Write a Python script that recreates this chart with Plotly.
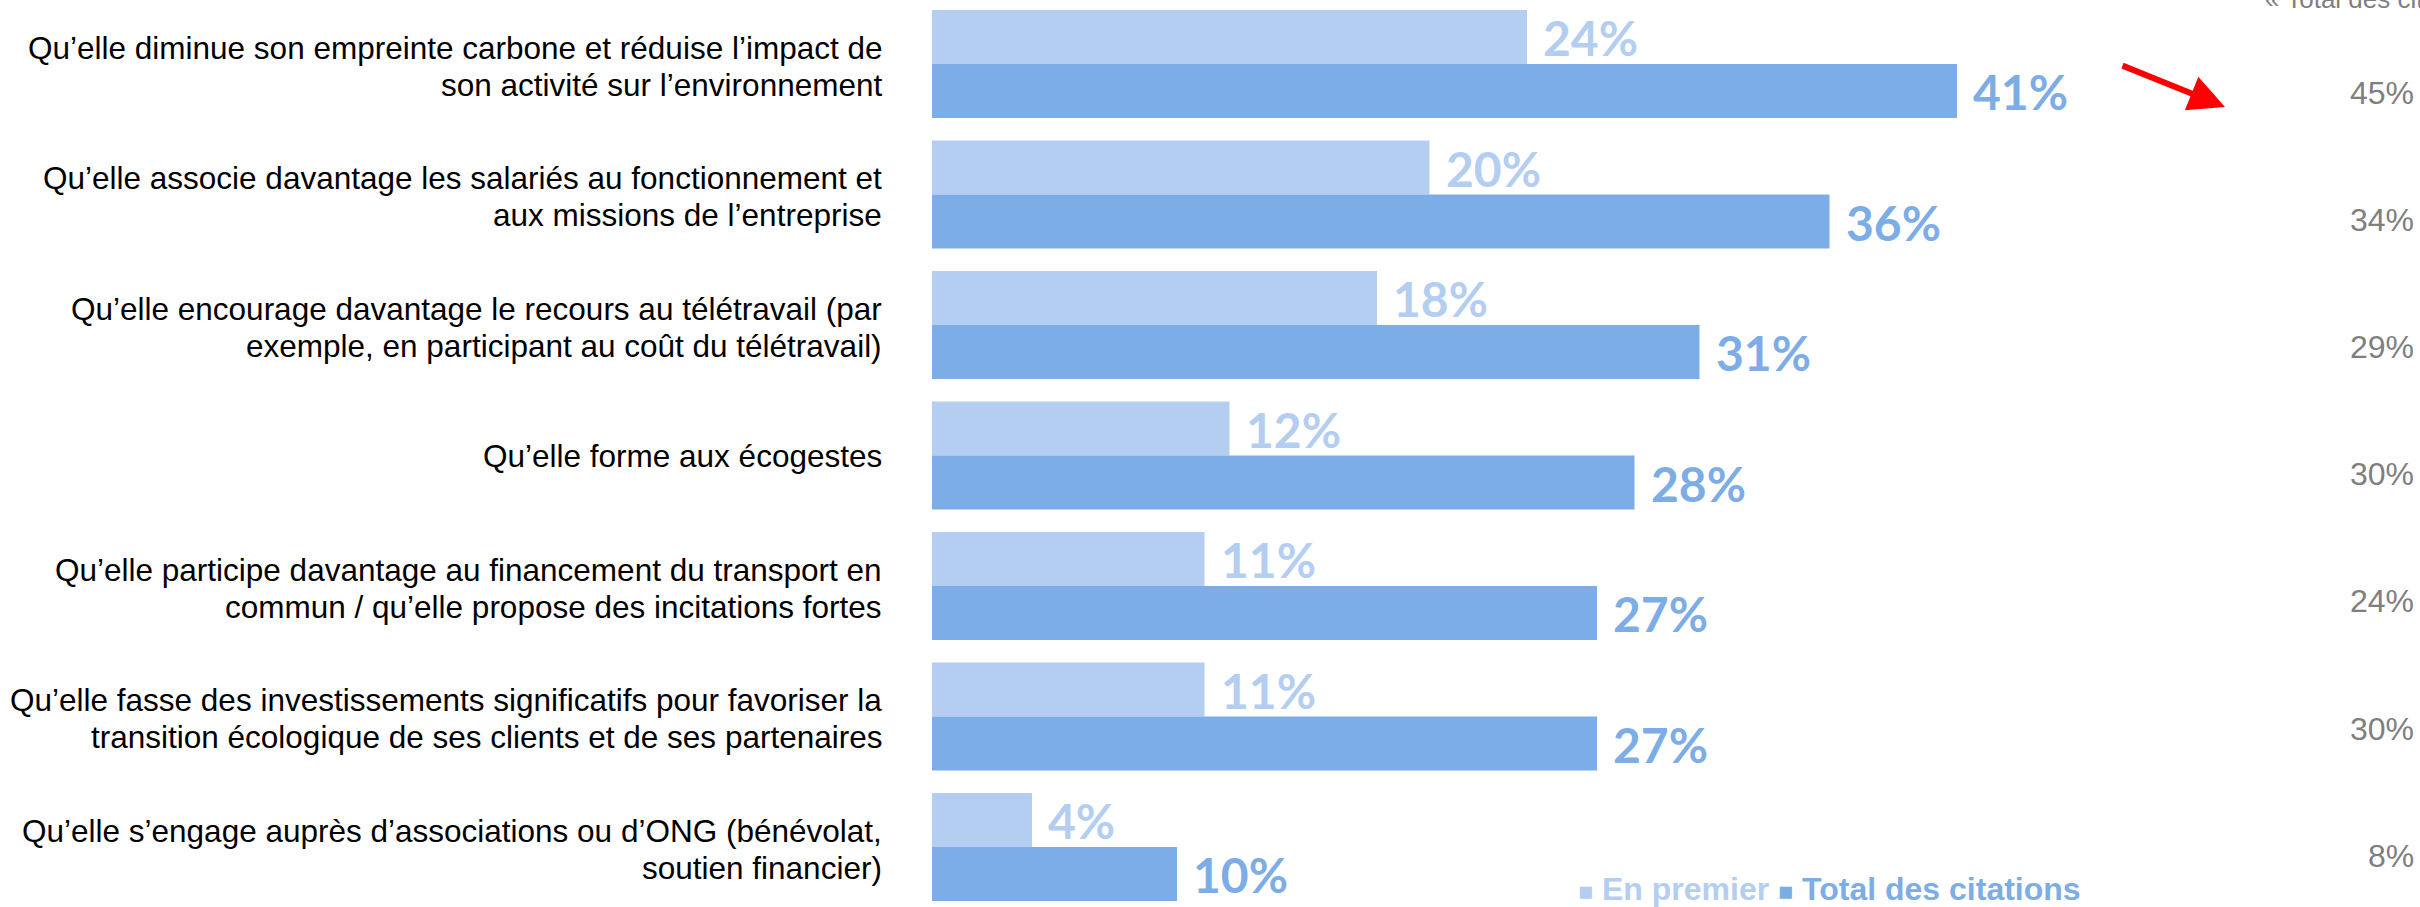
import plotly.graph_objects as go

# ---------------- data ----------------
categories = [
    ["Qu’elle diminue son empreinte carbone et réduise l’impact de", "son activité sur l’environnement"],
    ["Qu’elle associe davantage les salariés au fonctionnement et", "aux missions de l’entreprise"],
    ["Qu’elle encourage davantage le recours au télétravail (par", "exemple, en participant au coût du télétravail)"],
    ["Qu’elle forme aux écogestes"],
    ["Qu’elle participe davantage au financement du transport en", "commun / qu’elle propose des incitations fortes"],
    ["Qu’elle fasse des investissements significatifs pour favoriser la", "transition écologique de ses clients et de ses partenaires"],
    ["Qu’elle s’engage auprès d’associations ou d’ONG (bénévolat,", "soutien financier)"],
]
# bar lengths (labels show them rounded)
en_premier = [23.8, 19.9, 17.8, 11.9, 10.9, 10.9, 4.0]
total_citations = [41.0, 35.9, 30.7, 28.1, 26.6, 26.6, 9.8]
previous_total = [45, 34, 29, 30, 24, 30, 8]
series_names = ["En premier", "Total des citations"]
previous_header = "« Total des citations »"

# ---------------- style ----------------
LIGHT = "#B3CEF1"
DARK = "#7DADE6"
GREY = "#7F7F7F"
W, H = 2420, 907
ML = 932


def pct(v):
    return f"{int(v + 0.5)}%"


cat_ids = [" | ".join(c) for c in categories]

fig = go.Figure()
fig.add_trace(go.Bar(y=cat_ids, x=en_premier, orientation="h", name=series_names[0],
                     marker=dict(color=LIGHT, line=dict(width=0)), hoverinfo="skip"))
fig.add_trace(go.Bar(y=cat_ids, x=total_citations, orientation="h", name=series_names[1],
                     marker=dict(color=DARK, line=dict(width=0)), hoverinfo="skip"))

ann = []
val_font = "Lato, 'Open Sans', sans-serif"
for cid, v1, v2 in zip(cat_ids, en_premier, total_citations):
    ann.append(dict(x=v1, y=cid, xref="x", yref="y", text=f"<b>{pct(v1)}</b>", showarrow=False,
                    xanchor="left", yanchor="middle", xshift=14, yshift=26,
                    font=dict(family=val_font, size=48, color=LIGHT)))
    ann.append(dict(x=v2, y=cid, xref="x", yref="y", text=f"<b>{pct(v2)}</b>", showarrow=False,
                    xanchor="left", yanchor="middle", xshift=14, yshift=-28,
                    font=dict(family=val_font, size=48, color=DARK)))

# category labels on the left (one annotation per line)
lab_font = dict(family="Liberation Sans, Arial, sans-serif", size=31.5, color="#000000")
for cid, lines in zip(cat_ids, categories):
    shifts = [-1] if len(lines) == 1 else [16, -21]
    for line, sh in zip(lines, shifts):
        ann.append(dict(x=0, y=cid, xref="paper", yref="y", text=line, showarrow=False,
                        xanchor="right", yanchor="middle", xshift=-48, yshift=sh, font=lab_font))

# right column (previous wave)
for i, v in enumerate(previous_total):
    ann.append(dict(x=1, y=i, xref="paper", yref="y2", text=f"{v}%", showarrow=False,
                    xanchor="right", yanchor="middle", xshift=-4,
                    font=dict(family="Liberation Sans, Arial, sans-serif", size=32, color=GREY)))
ann.append(dict(x=(2263 - ML) / (W - ML), y=1 + 1 / H, xref="paper", yref="paper",
                text=previous_header, showarrow=False, xanchor="left", yanchor="middle",
                font=dict(family="Liberation Sans, Arial, sans-serif", size=26, color=GREY)))

# red arrow
ann.append(dict(x=(2225 - ML) / (W - ML), y=1 - 107 / H, xref="paper", yref="paper",
                ax=-104, ay=-42, text="", showarrow=True, arrowhead=2, arrowsize=1.2,
                arrowwidth=6, arrowcolor="#FF0000"))

# legend
ann.append(dict(x=(1576 - ML) / (W - ML), y=1 - 889 / H, xref="paper", yref="paper",
                text=(f"<span style='color:{LIGHT}'><b><span style='font-size:25px'>■</span> {series_names[0]}</b></span> "
                      f"<span style='color:{DARK}'><b><span style='font-size:25px'>■</span> {series_names[1]}</b></span>"),
                showarrow=False, xanchor="left", yanchor="middle",
                font=dict(family="Liberation Sans, Arial, sans-serif", size=32)))

fig.update_layout(
    width=W, height=H,
    margin=dict(l=ML, r=0, t=0, b=0, pad=0),
    paper_bgcolor="white", plot_bgcolor="white",
    barmode="group", bargap=0.172, bargroupgap=0,
    showlegend=False,
    xaxis=dict(range=[0, (W - ML) / 25.0], visible=False, fixedrange=True),
    yaxis=dict(type="category", categoryorder="array", categoryarray=cat_ids,
               range=[6.46, -0.49], visible=False, fixedrange=True),
    yaxis2=dict(overlaying="y", range=[6.402, -0.728], visible=False, fixedrange=True),
    annotations=ann,
)

fig.write_html("out.html", config={"displayModeBar": False},
               post_script="document.body.style.margin='0';document.body.style.overflow='hidden';")
